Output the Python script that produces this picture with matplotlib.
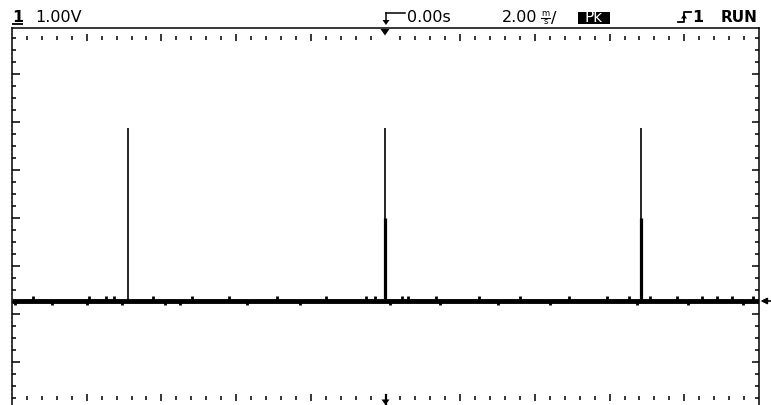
import numpy as np
import matplotlib
matplotlib.use("Agg")
import matplotlib.pyplot as plt
from matplotlib.patches import Rectangle, Polygon

# ---- trace data (time in ms, voltage in V) ----
baseline_v = -1.72
pulse_times = [-6.89, -0.02, 6.83]
pulse_peak_v = [1.87, 1.87, 1.87]
# the later two pulses show a brighter (thicker) lower segment
thick_times = [-0.02, 6.83]
thick_top_v = [0.0, 0.0]

# small glitches riding on the baseline
glitch_up_t = [-9.44, -7.94, -7.48, -7.27, -6.23, -5.18, -4.2, -2.9, -1.6,
               -0.52, -0.28, 0.44, 0.60, 1.35, 2.5, 3.6, 4.9,
               5.93, 6.52, 7.08, 7.80, 8.47, 8.88, 9.28, 9.84]
glitch_dn_t = [-9.92, -8.93, -7.99, -7.05, -5.90, -5.50, -3.7, -2.3,
               0.12, 1.46, 3.0, 4.4, 6.73, 8.10, 9.57]

# ---- graticule ----
x_lim = (-10.0, 10.0)          # 2.00 ms/div, 10 divisions
y_lim = (-3.896, 3.952)        # 1.00 V/div
minor_x = np.round(np.arange(-9.6, 9.61, 0.4), 3)
major_x = [-8, -6, -4, -2, 2, 4, 6, 8]
minor_y = np.round(np.arange(-3.75, 3.76, 0.25), 3)
major_y = [-3, -2, -1, 0, 1, 2, 3]

W, H = 771, 405
fig = plt.figure(figsize=(W / 100, H / 100), dpi=100)
fig.patch.set_facecolor("white")

left_px, right_px, top_px, bottom_px = 12, 759, 28.3, 405
ax = fig.add_axes([left_px / W, (H - bottom_px) / H,
                   (right_px - left_px) / W, (bottom_px - top_px) / H])
ax.set_xlim(*x_lim)
ax.set_ylim(*y_lim)
ax.set_xticks([])
ax.set_yticks([])
for s in ("top", "left", "right"):
    ax.spines[s].set_linewidth(1.1)
    ax.spines[s].set_color("black")
ax.spines["bottom"].set_visible(False)

px_x = (x_lim[1] - x_lim[0]) / (right_px - left_px)   # ms per pixel
px_y = (y_lim[1] - y_lim[0]) / (bottom_px - top_px)   # V per pixel

# horizontal graticule marks along the top and bottom
for yrow in (3.75, -3.75):
    xs_minor = [x for x in minor_x if x not in major_x and abs(x) > 1e-9]
    ax.vlines(xs_minor, yrow - 2 * px_y, yrow + 2 * px_y, color="black", lw=1.1)
    ax.vlines(major_x, yrow - 3.5 * px_y, yrow + 3.5 * px_y, color="black", lw=1.1)

# vertical graticule marks along the left and right edges
minor_only_y = [y for y in minor_y if y not in major_y]
ax.hlines(minor_only_y, x_lim[0], x_lim[0] + 4 * px_x, color="black", lw=1.1)
ax.hlines(major_y, x_lim[0], x_lim[0] + 7.5 * px_x, color="black", lw=1.1)
ax.hlines(minor_only_y, x_lim[1] - 4 * px_x, x_lim[1], color="black", lw=1.1)
ax.hlines(major_y, x_lim[1] - 7 * px_x, x_lim[1], color="black", lw=1.1)

# trace
ax.hlines(baseline_v, x_lim[0], x_lim[1], color="black", lw=3.5, zorder=3)
ax.vlines(pulse_times, baseline_v, pulse_peak_v, color="black", lw=1.2, zorder=3)
ax.vlines(thick_times, baseline_v, thick_top_v, color="black", lw=2.3, zorder=3)
ax.vlines(glitch_up_t, baseline_v, baseline_v + 4.2 * px_y, color="black", lw=2.0, zorder=3)
ax.vlines(glitch_dn_t, baseline_v - 4.2 * px_y, baseline_v, color="black", lw=2.0, zorder=3)

# ---- overlay in pixel space for the status line and markers ----
ov = fig.add_axes([0, 0, 1, 1], zorder=5)
ov.set_xlim(0, W)
ov.set_ylim(H, 0)
ov.axis("off")
ov.patch.set_alpha(0)

txt = dict(family="DejaVu Sans", fontsize=11.5, color="black", va="baseline")
base_y = 22.5

# channel 1 scale
ov.text(12, base_y, "1", fontweight="bold", **txt)
ov.plot([12, 23], [24.2, 24.2], color="black", lw=1.3, solid_capstyle="butt")
ov.text(35, base_y, "1.00V", **txt)

# trigger-position symbol and delay
ov.plot([386, 386], [13, 21], color="black", lw=1.1)
ov.plot([386, 405], [13, 13], color="black", lw=1.1)
ov.add_patch(Polygon([[382.5, 20], [389.5, 20], [386, 25]], closed=True,
                     color="black", lw=0))
ov.text(407, base_y, "0.00s", **txt)

# time base, with the unit stacked as m over s
ov.text(502, base_y, "2.00", **txt)
ov.text(545.5, 17.5, "m\ns", fontsize=6, ha="center", va="center",
        multialignment="center", linespacing=0.9, family="DejaVu Sans")
ov.plot([541, 550], [17.6, 17.6], color="black", lw=0.8)
ov.text(551, base_y, "/", **txt)

# peak-detect indicator
ov.add_patch(Rectangle((578, 11.5), 32, 12, color="black", lw=0))
ov.text(594, base_y, "Pk", ha="center", family="DejaVu Sans", fontsize=11,
        color="white", va="baseline")

# trigger edge symbol, source and run state
ov.plot([678, 684, 684, 691], [22, 22, 12, 12], color="black", lw=1.3)
ov.add_patch(Polygon([[681, 18.5], [687, 18.5], [684, 14]], closed=True,
                     color="black", lw=0))
ov.text(692, base_y, "1", fontweight="bold", **txt)
ov.text(758, base_y, "RUN", fontweight="bold", ha="right",
        family="DejaVu Sans", fontsize=11, va="baseline")

# trigger point marker at top, time reference at bottom
ov.add_patch(Polygon([[380.5, 29], [389.5, 29], [385, 35.5]], closed=True,
                     color="black", lw=0))
ov.plot([385.5, 385.5], [395, 405], color="black", lw=1.6)
ov.add_patch(Polygon([[381.5, 399.5], [389.5, 399.5], [385.5, 405]], closed=True,
                     color="black", lw=0))

# ground reference arrow on the right edge
ov.annotate("", xy=(760.5, 301), xytext=(771, 301),
            arrowprops=dict(arrowstyle="-|>", lw=1.2, color="black",
                            mutation_scale=9, shrinkA=0, shrinkB=0))

fig.savefig("out.png", dpi=100, facecolor="white")
